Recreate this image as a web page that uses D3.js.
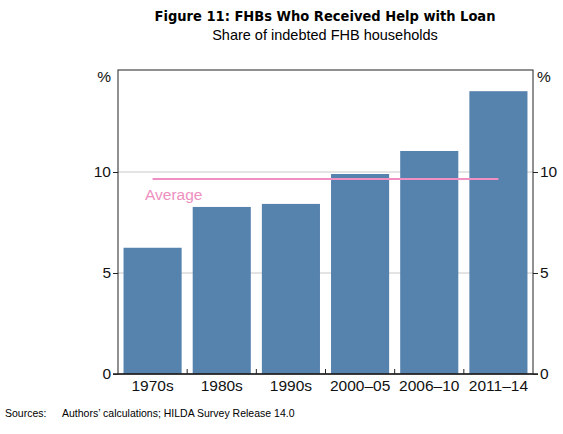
<!DOCTYPE html>
<html><head><meta charset="utf-8">
<script src="https://cdn.jsdelivr.net/npm/d3@7"></script>
<style>body{margin:0;background:#fff}svg{display:block}</style>
</head><body>
<svg id="c" width="563" height="434"></svg>
<script>
const categories = ["1970s","1980s","1990s","2000–05","2006–10","2011–14"];
const values = [6.25, 8.27, 8.42, 9.9, 11.04, 14.0];
const averageValue = 9.65;
const yTicks = [0, 5, 10];

const svg = d3.select("#c");
const L = 118, R = 533, T = 71, B = 374;
const x = d3.scaleBand().domain(categories).range([L, R]).paddingInner(0.16).paddingOuter(0.08);
const y = d3.scaleLinear().domain([0, 15]).range([B, T]);
const font = "'Liberation Sans', Arial, sans-serif";

// gridlines
svg.append("g").selectAll("line").data(yTicks.filter(d => d > 0)).join("line")
  .attr("x1", L).attr("x2", R).attr("y1", d => y(d)).attr("y2", d => y(d))
  .attr("stroke", "#c8c8c8").attr("stroke-width", 1);

// bars
svg.append("g").selectAll("rect").data(values).join("rect")
  .attr("x", (d, i) => x(categories[i]))
  .attr("width", x.bandwidth())
  .attr("y", d => y(d))
  .attr("height", d => B - y(d))
  .attr("fill", "#5682ae");

// average line
const c0 = x(categories[0]) + x.bandwidth() / 2;
const c1 = x(categories[categories.length - 1]) + x.bandwidth() / 2;
svg.append("line").attr("x1", c0).attr("x2", c1)
  .attr("y1", y(averageValue)).attr("y2", y(averageValue))
  .attr("stroke", "#ef8fc2").attr("stroke-width", 2);
svg.append("text").attr("x", 145).attr("y", 200).text("Average")
  .attr("font-family", font).attr("font-size", 15.5).attr("fill", "#ee8fc0");

// frame
svg.append("rect").attr("x", L).attr("y", T - 1).attr("width", R - L).attr("height", B - T + 1)
  .attr("fill", "none").attr("stroke", "#222").attr("stroke-width", 1);
svg.append("line").attr("x1", L - 5).attr("x2", R + 5).attr("y1", B).attr("y2", B)
  .attr("stroke", "#222").attr("stroke-width", 1.5);

// y axes
const yl = svg.append("g").attr("transform", `translate(${L},0)`)
  .call(d3.axisLeft(y).tickValues(yTicks).tickSize(5).tickPadding(2));
const yr = svg.append("g").attr("transform", `translate(${R},0)`)
  .call(d3.axisRight(y).tickValues(yTicks).tickSize(5).tickPadding(2));
[yl, yr].forEach(g => {
  g.select(".domain").remove();
  g.selectAll("line").attr("stroke", "#222");
  g.selectAll("text").attr("font-family", font).attr("font-size", 15.5).attr("fill", "#111");
});

// x axis
const xa = svg.append("g").attr("transform", `translate(0,${B})`)
  .call(d3.axisBottom(x).tickSize(0).tickPadding(6));
xa.select(".domain").remove();
xa.selectAll("text").attr("font-family", font).attr("font-size", 15.5).attr("fill", "#111");
// inner boundary ticks
svg.append("g").selectAll("line").data(categories.slice(1)).join("line")
  .attr("x1", d => x(d) - x.step() * x.paddingInner() / 2)
  .attr("x2", d => x(d) - x.step() * x.paddingInner() / 2)
  .attr("y1", B).attr("y2", B - 5).attr("stroke", "#222");

// % labels
svg.append("text").attr("x", 111).attr("y", 82).attr("text-anchor", "end").text("%")
  .attr("font-family", font).attr("font-size", 15.5).attr("fill", "#111");
svg.append("text").attr("x", 537).attr("y", 82).text("%")
  .attr("font-family", font).attr("font-size", 15.5).attr("fill", "#111");

// titles
svg.append("text").attr("x", 325).attr("y", 21).attr("text-anchor", "middle")
  .text("Figure 11: FHBs Who Received Help with Loan")
  .attr("font-family", "'DejaVu Sans Condensed', 'DejaVu Sans', sans-serif").attr("font-weight", "bold")
  .attr("font-size", 14.5).attr("textLength", 341).attr("lengthAdjust", "spacingAndGlyphs").attr("fill", "#000");
svg.append("text").attr("x", 325).attr("y", 40).attr("text-anchor", "middle")
  .text("Share of indebted FHB households")
  .attr("font-family", font).attr("font-size", 14.5).attr("fill", "#000");

// sources
svg.append("text").attr("x", 5).attr("y", 417).text("Sources:")
  .attr("font-family", font).attr("font-size", 10.5).attr("fill", "#000");
svg.append("text").attr("x", 62).attr("y", 417).text("Authors’ calculations; HILDA Survey Release 14.0")
  .attr("font-family", font).attr("font-size", 10.5).attr("fill", "#000");
</script>
</body></html>
